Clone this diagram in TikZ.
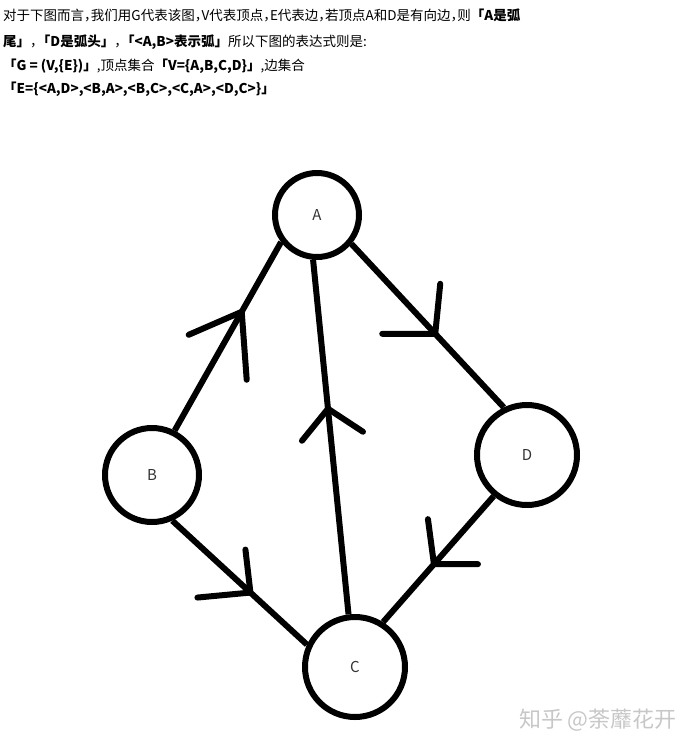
\documentclass[tikz,border=0pt]{standalone}
\usepackage{fontspec}
\setmainfont{Noto Sans CJK SC}
\newfontfamily\halfpunct{Noto Sans CJK SC}[RawFeature=+halt]
\usetikzlibrary{calc}
\newcommand\arrowmark[3]{\draw[head] ($(#1)+#2$) -- (#1) -- ($(#1)+#3$);}
\newcommand\cm{{\halfpunct ，}}

\begin{document}
\begin{tikzpicture}[x=1pt,y=-1pt,
    vertex/.style={circle,draw,line width=6pt,inner sep=0pt,
      font=\fontsize{15}{15}\selectfont,text=black!80},
    edge/.style={line width=6pt},
    head/.style={line width=6pt,line cap=round,line join=round},
    txt/.style={anchor=west,inner sep=0pt,font=\fontsize{13.5}{13.5}\selectfont}
  ]
    \useasboundingbox (0,0) rectangle (699,740);
    % heading text
    \node[txt] (l1) at (3,15) {对于下图而言\cm 我们用G代表该图\cm V代表顶点\cm E代表边\cm 若顶点A和D是有向边\cm 则\textbf{「A是弧}};
    \node[txt] (l2) at (3,42) {\textbf{尾」}\cm\textbf{「D是弧头」}\cm\textbf{「<A,B>表示弧」}所以下图的表达式则是:};
    \node[txt] (l3) at (3,66) {\textbf{「G = (V,\{E\})」},顶点集合\textbf{「V=\{A,B,C,D\}」},边集合};
    \node[txt] (l4) at (3,89) {\textbf{「E=\{<A,D>,<B,A>,<B,C>,<C,A>,<D,C>\}」}};
    % vertices
    \node[vertex,minimum size=84pt] (A) at (317,215) {A};
    \node[vertex,minimum size=94pt] (B) at (152,475) {B};
    \node[vertex,minimum size=100pt] (C) at (355,667) {C};
    \node[vertex,minimum size=100pt] (D) at (527,455) {D};
    % arcs
    \draw[edge] (A.-40) -- coordinate[pos=0.55] (ad) (D.116);
    \draw[edge] (B.63) -- coordinate[pos=0.63] (ba) (A.217);
    \draw[edge] (B.-66) -- coordinate[pos=0.58] (bc) (C.155);
    \draw[edge] (C.97) -- coordinate[pos=0.58] (ca) (A.-95);
    \draw[edge] (D.-129) -- coordinate[pos=0.54] (dc) (C.58);
    % hand drawn arrow heads
    \arrowmark{ad}{(5,-50)}{(-53,0)}
    \arrowmark{ba}{(-53,23)}{(5,68)}
    \arrowmark{bc}{(-5,-43)}{(-53,5)}
    \arrowmark{ca}{(-26,32)}{(35,23)}
    \arrowmark{dc}{(-6,-45)}{(44,0)}
    % watermark
    \node[anchor=east,inner sep=0pt,text=black!22,font=\fontsize{22}{22}\selectfont] (wm) at (677,720) {知乎 @荼蘼花开};
  \end{tikzpicture}
\end{document}
